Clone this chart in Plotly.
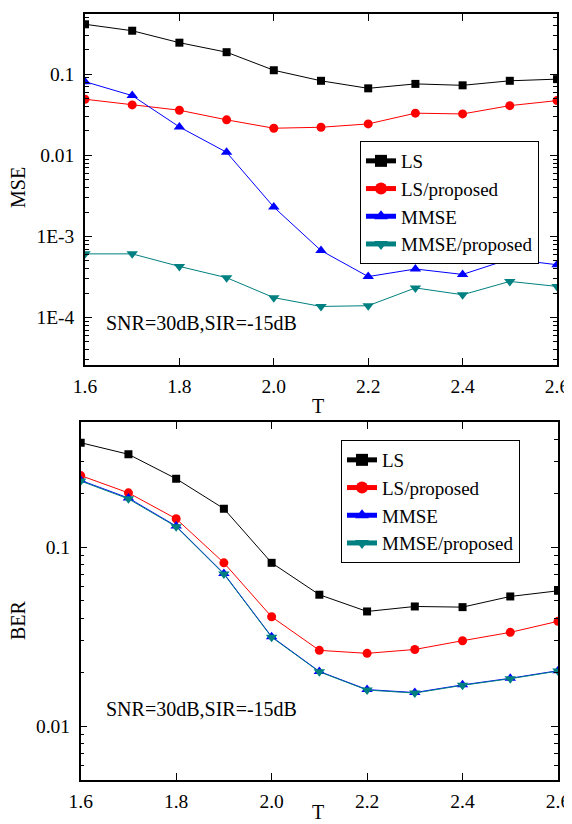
import plotly.graph_objects as go
import numpy as np

T = [1.6, 1.7, 1.8, 1.9, 2.0, 2.1, 2.2, 2.3, 2.4, 2.5, 2.6]

mse_ls = [0.413, 0.344, 0.245, 0.187, 0.112, 0.083, 0.067, 0.076, 0.073, 0.083, 0.087]
mse_ls_prop = [0.0492, 0.0419, 0.036, 0.0274, 0.0216, 0.0222, 0.0244, 0.0331, 0.0324, 0.041, 0.0473]
mse_mmse = [0.081, 0.0545, 0.0224, 0.0109, 2.3e-3, 6.7e-4, 3.2e-4, 3.97e-4, 3.4e-4, 5.27e-4, 4.48e-4]
mse_mmse_prop = [6.1e-4, 6.1e-4, 4.27e-4, 3.1e-4, 1.76e-4, 1.37e-4, 1.40e-4, 2.32e-4, 1.91e-4, 2.79e-4, 2.42e-4]

ber_ls = [0.383, 0.33, 0.241, 0.164, 0.0817, 0.0542, 0.0437, 0.0466, 0.0462, 0.053, 0.057]
ber_ls_prop = [0.251, 0.201, 0.144, 0.0817, 0.0408, 0.0265, 0.0255, 0.0268, 0.030, 0.0334, 0.0385]
ber_mmse = [0.236, 0.188, 0.131, 0.0712, 0.0316, 0.0202, 0.016, 0.0154, 0.017, 0.0185, 0.0204]
ber_mmse_prop = [0.234, 0.186, 0.13, 0.0707, 0.0314, 0.0201, 0.0159, 0.0153, 0.0169, 0.0184, 0.0203]

names = ["LS", "LS/proposed", "MMSE", "MMSE/proposed"]
colors = ["#000000", "#ff0000", "#0000ff", "#008080"]
symbols = ["square", "circle", "triangle-up", "triangle-down"]
sizes = [8, 9, 10, 10]

FONT = "Liberation Serif"
OFF = 8  # page body margin
W, H = 572 - OFF, 824 - OFF

fig = go.Figure()

for i, ys in enumerate([mse_ls, mse_ls_prop, mse_mmse, mse_mmse_prop]):
    fig.add_trace(go.Scatter(x=T, y=ys, mode="lines+markers", name=names[i],
                             line=dict(color=colors[i], width=1),
                             marker=dict(symbol=symbols[i], size=sizes[i], color=colors[i]),
                             xaxis="x", yaxis="y", legend="legend"))
for i, ys in enumerate([ber_ls, ber_ls_prop, ber_mmse, ber_mmse_prop]):
    fig.add_trace(go.Scatter(x=T, y=ys, mode="lines+markers", name=names[i],
                             line=dict(color=colors[i], width=1),
                             marker=dict(symbol=symbols[i], size=sizes[i], color=colors[i]),
                             xaxis="x2", yaxis="y2", legend="legend2"))

axis_common = dict(showline=True, linecolor="black", linewidth=1.5, mirror="ticks",
                   ticks="inside", ticklen=7, tickwidth=1, tickcolor="black",
                   showgrid=False, zeroline=False, automargin=False,
                   tickfont=dict(family=FONT, size=19.5, color="black"))

def px_x(p):
    return (p - OFF) / W

def px_y(p):
    return 1 - (p - OFF) / H

fig.update_layout(
    width=W, height=H,
    margin=dict(l=0, r=0, t=0, b=0),
    paper_bgcolor="white", plot_bgcolor="white",
    font=dict(family=FONT, size=20, color="black"),
    xaxis=dict(axis_common, domain=[px_x(85), px_x(557)], range=[1.6, 2.6],
               tickvals=[1.6, 1.8, 2.0, 2.2, 2.4, 2.6], tickformat=".1f", anchor="y",
               ticklabelstandoff=3),
    yaxis=dict(axis_common, domain=[px_y(365), px_y(14)], type="log",
               range=[np.log10(2.6e-5), np.log10(0.553)],
               tickvals=[1e-4, 1e-3, 1e-2, 1e-1], ticktext=["1E-4", "1E-3", "0.01", "0.1"],
               minor=dict(ticks="inside", ticklen=4, tickcolor="black", dtick="D1", showgrid=False),
               anchor="x", ticklabelstandoff=5),
    xaxis2=dict(axis_common, domain=[px_x(80.7), px_x(558)], range=[1.6, 2.6],
                tickvals=[1.6, 1.8, 2.0, 2.2, 2.4, 2.6], tickformat=".1f", anchor="y2",
                ticklabelstandoff=3),
    yaxis2=dict(axis_common, domain=[px_y(780), px_y(422.3)], type="log",
                range=[np.log10(0.005), np.log10(0.498)],
                tickvals=[0.01, 0.1], ticktext=["0.01", "0.1"],
                minor=dict(ticks="inside", ticklen=4, tickcolor="black", dtick="D1", showgrid=False),
                anchor="x2", ticklabelstandoff=5),
    legend=dict(x=px_x(360), y=px_y(141), xanchor="left", yanchor="top",
                bgcolor="white", bordercolor="black", borderwidth=1,
                font=dict(family=FONT, size=19, color="black"), tracegroupgap=0,
                itemsizing="constant"),
    legend2=dict(x=px_x(341), y=px_y(440), xanchor="left", yanchor="top",
                 bgcolor="white", bordercolor="black", borderwidth=1,
                 font=dict(family=FONT, size=19, color="black"), tracegroupgap=0,
                 itemsizing="constant"),
    showlegend=True,
    annotations=[
        dict(text="SNR=30dB,SIR=-15dB", x=px_x(104), y=px_y(323), xref="paper", yref="paper",
             xanchor="left", yanchor="middle", showarrow=False, font=dict(family=FONT, size=20)),
        dict(text="SNR=30dB,SIR=-15dB", x=px_x(104), y=px_y(709), xref="paper", yref="paper",
             xanchor="left", yanchor="middle", showarrow=False, font=dict(family=FONT, size=20)),
        dict(text="MSE", x=px_x(18), y=px_y(188), xref="paper", yref="paper", textangle=-90,
             xanchor="center", yanchor="middle", showarrow=False, font=dict(family=FONT, size=20)),
        dict(text="BER", x=px_x(18), y=px_y(620), xref="paper", yref="paper", textangle=-90,
             xanchor="center", yanchor="middle", showarrow=False, font=dict(family=FONT, size=20)),
        dict(text="T", x=px_x(318), y=px_y(406), xref="paper", yref="paper",
             xanchor="center", yanchor="middle", showarrow=False, font=dict(family=FONT, size=20)),
        dict(text="T", x=px_x(318), y=px_y(812), xref="paper", yref="paper",
             xanchor="center", yanchor="middle", showarrow=False, font=dict(family=FONT, size=20)),
    ],
)

fig.write_html("out.html")
